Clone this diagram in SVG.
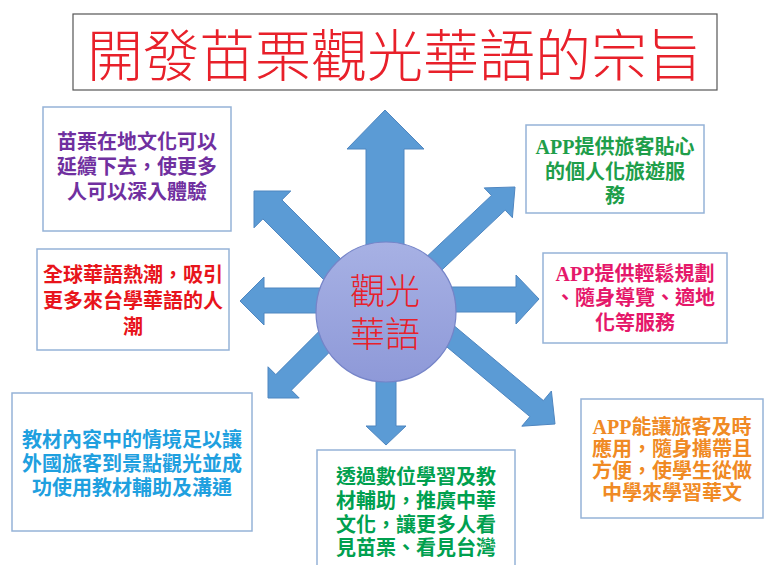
<svg xmlns="http://www.w3.org/2000/svg" width="765" height="565" viewBox="0 0 765 565">
<defs>
<linearGradient id="cg" x1="0" y1="0" x2="0" y2="1">
<stop offset="0" stop-color="#A7B1E4"/>
<stop offset="1" stop-color="#8E99D8"/>
</linearGradient>
</defs>
<style>
.box{fill:#fff;stroke:#95B3D7;stroke-width:1.5}
.t{font-family:"Liberation Serif","Noto Sans CJK TC",serif;font-weight:bold;font-size:20px;text-anchor:middle}
.arr{fill:#5B9BD5;stroke:#4F86C0;stroke-width:1}
.light{font-family:"Noto Sans CJK TC","Noto Sans CJK SC",sans-serif;font-weight:300;fill:#E8202A;text-anchor:middle}
.ctr{font-family:"Liberation Sans","Noto Sans CJK TC",sans-serif;font-weight:300;fill:#E8202A;text-anchor:middle;font-size:35px}
</style>
<rect width="765" height="565" fill="#fff"/>
<g id="title">
<rect x="73" y="14" width="644" height="76" fill="#fff" stroke="#555" stroke-width="1.2"/>
<text class="light" x="395" y="76" font-size="56">開發苗栗觀光華語的宗旨</text>
</g>
<g id="connectors">
<polygon class="arr" points="366,300 366,149 347,149 385,110 424,149 404,149 404,300"/>
<polygon class="arr" points="376,330 376,426 366,426 386,445 406,426 396,426 396,330"/>
<polygon class="arr" points="330,288 264,288 264,277 240,301 264,325 264,313 330,313"/>
<polygon class="arr" points="440,287 516,287 516,275 539,299 516,324 516,312 440,312"/>
<polygon class="arr" points="359.5,277.5 281.9,199.9 290.8,191 254,191 254,227.8 262.9,218.9 340.5,296.5"/>
<polygon class="arr" points="396.9,284.8 491.4,195.5 484.2,187.9 515,187 512.4,217.7 505.2,210.1 410.7,299.4"/>
<polygon class="arr" points="353.6,296.8 275.8,374.6 268,366.8 268,398 299.2,398 291.4,390.2 369.2,312.4"/>
<polygon class="arr" points="405.4,284.9 543.4,400.6 551.4,391 555,424 521.8,426.2 529.9,416.6 392,300.9"/>
</g>
<g id="center">
<circle cx="386" cy="312" r="70" fill="url(#cg)" stroke="#7584C8" stroke-width="1.2"/>
<text class="ctr"><tspan x="385" y="304">觀光</tspan><tspan x="385" y="347">華語</tspan></text>
</g>
<g id="n1">
<rect class="box" x="43" y="107" width="188" height="124"/>
<text class="t" fill="#7030A0"><tspan x="137" y="149">苗栗在地文化可以</tspan><tspan x="137" y="174">延續下去，使更多</tspan><tspan x="137" y="199">人可以深入體驗</tspan></text>
</g>
<g id="n2">
<rect class="box" x="37" y="249" width="192" height="101"/>
<text class="t" fill="#E8141B"><tspan x="133" y="282">全球華語熱潮，吸引</tspan><tspan x="133" y="308">更多來台學華語的人</tspan><tspan x="133" y="334">潮</tspan></text>
</g>
<g id="n3">
<rect class="box" x="526" y="125" width="178" height="88"/>
<text class="t" fill="#1E9E4A"><tspan x="615" y="154">APP提供旅客貼心</tspan><tspan x="615" y="179">的個人化旅遊服</tspan><tspan x="615" y="203">務</tspan></text>
</g>
<g id="n4">
<rect class="box" x="543" y="253" width="184" height="90"/>
<text class="t" fill="#E5186A"><tspan x="635" y="281">APP提供輕鬆規劃</tspan><tspan x="635" y="305">、隨身導覽、適地</tspan><tspan x="635" y="330">化等服務</tspan></text>
</g>
<g id="n5">
<rect class="box" x="12" y="393" width="240" height="138"/>
<text class="t" fill="#1FA0DF"><tspan x="132" y="447">教材內容中的情境足以讓</tspan><tspan x="132" y="471">外國旅客到景點觀光並成</tspan><tspan x="132" y="495">功使用教材輔助及溝通</tspan></text>
</g>
<g id="n6">
<rect class="box" x="317" y="450" width="198" height="125"/>
<text class="t" fill="#00A04F"><tspan x="416" y="484">透過數位學習及教</tspan><tspan x="416" y="508">材輔助，推廣中華</tspan><tspan x="416" y="532">文化，讓更多人看</tspan><tspan x="416" y="555">見苗栗、看見台灣</tspan></text>
</g>
<g id="n7">
<rect class="box" x="581" y="399" width="182" height="119"/>
<text class="t" fill="#F08A24"><tspan x="672" y="434">APP能讓旅客及時</tspan><tspan x="672" y="456">應用，隨身攜帶且</tspan><tspan x="672" y="478">方便，使學生從做</tspan><tspan x="672" y="500">中學來學習華文</tspan></text>
</g>
</svg>
